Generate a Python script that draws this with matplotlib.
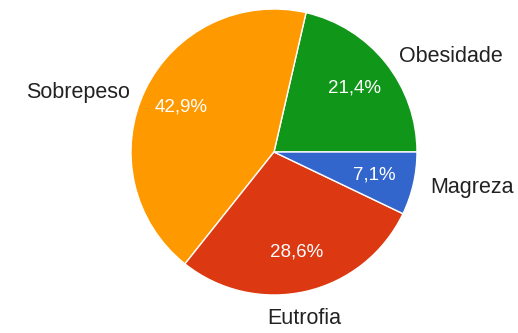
import matplotlib
matplotlib.use("Agg")
from matplotlib import pyplot as plt

plt.rcParams['font.family'] = ['Liberation Sans', 'DejaVu Sans']

# data (counter-clockwise from 3 o'clock)
categorias = ['Obesidade', 'Sobrepeso', 'Eutrofia', 'Magreza']
percentuais = [21.4, 42.9, 28.6, 7.1]
cores = ['#109618', '#ff9900', '#dc3912', '#3366cc']


def fmt(p):
    return ('%.1f%%' % p).replace('.', ',')


fig = plt.figure(figsize=(5.18, 3.33), dpi=100)
ax = fig.add_axes([0.2529, 0.1141, 0.5521, 0.8589])

wedges, textos, pcts = ax.pie(percentuais, labels=categorias, colors=cores,
                              startangle=0, counterclock=True,
                              autopct=fmt, pctdistance=0.72, labeldistance=1.12,
                              wedgeprops=dict(edgecolor='white', linewidth=1),
                              textprops=dict(fontsize=15.5, color='#222222'))

for t in pcts:
    t.set_color('white')
    t.set_fontsize(13.5)

# small label tweaks to sit like the original
textos[0].set_va('bottom')
textos[0].set_y(textos[0].get_position()[1] - 0.1)
textos[1].set_va('top')
textos[2].set_ha('center')
textos[2].set_va('top')
textos[2].set_x(textos[2].get_position()[0] - 0.04)

ax.set_xlim(-1, 1)
ax.set_ylim(-1, 1)
ax.axis('off')

plt.savefig('out.png', dpi=100)
